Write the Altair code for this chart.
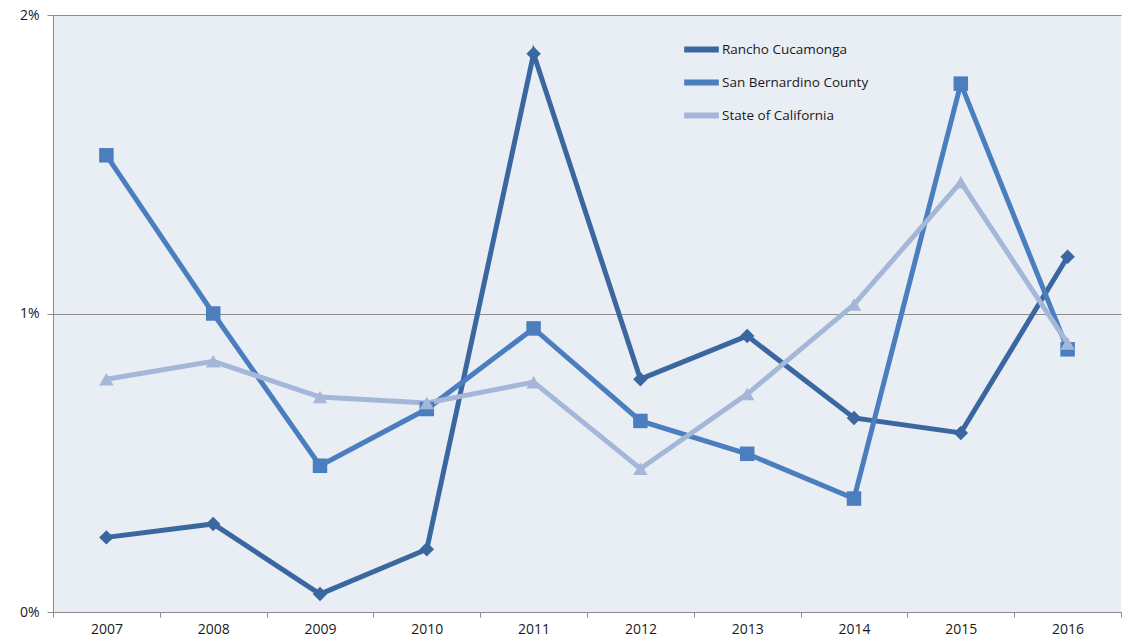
import altair as alt
import pandas as pd

years = ["2007", "2008", "2009", "2010", "2011", "2012", "2013", "2014", "2015", "2016"]
series_names = ["Rancho Cucamonga", "San Bernardino County", "State of California"]
rancho = [0.25, 0.295, 0.06, 0.21, 1.87, 0.78, 0.925, 0.65, 0.60, 1.19]
san_bern = [1.53, 1.00, 0.49, 0.68, 0.95, 0.64, 0.53, 0.38, 1.77, 0.88]
state = [0.78, 0.84, 0.72, 0.70, 0.77, 0.48, 0.73, 1.03, 1.44, 0.90]
y_ticks = [0, 1, 2]
colors = ["#3b67a1", "#4a7ebf", "#a5b7d8"]
shapes = ["diamond", "square", "triangle-up"]

rows = []
for name, vals in zip(series_names, [rancho, san_bern, state]):
    for i, (yr, v) in enumerate(zip(years, vals)):
        rows.append({"Year": yr, "Value": v, "Series": name, "Marker": name, "idx": i})
df = pd.DataFrame(rows)

font = "Open Sans"

x_enc = alt.X("Year:N", sort=years, title=None,
              scale=alt.Scale(paddingInner=0, paddingOuter=0),
              axis=alt.Axis(labelAngle=0, tickBand="extent", domainColor="#8c8c8c",
                            tickColor="#8c8c8c", tickSize=5, labelFontSize=14,
                            labelColor="#1a1a1a", labelFont=font, labelPadding=5,
                            grid=False))
y_enc = alt.Y("Value:Q", title=None,
              scale=alt.Scale(domain=[0, 2], nice=False),
              axis=alt.Axis(values=y_ticks, labelExpr="datum.value + '%'",
                            domainColor="#8c8c8c", tickColor="#8c8c8c", tickSize=6,
                            labelFontSize=14, labelColor="#1a1a1a", labelFont=font,
                            labelPadding=8, gridColor="#8c8c8c", gridWidth=1.2,
                            grid=True))
color_enc = alt.Color("Series:N", scale=alt.Scale(domain=series_names, range=colors),
                      legend=alt.Legend(title=None, orient="none", legendX=628, legendY=14,
                                        symbolType="stroke", symbolStrokeWidth=6,
                                        symbolSize=1200, labelFontSize=13.5, labelFont=font,
                                        labelColor="#1a1a1a", rowPadding=-1.6, labelOffset=0))

base = alt.Chart(df)
lines = base.mark_line(strokeWidth=5).encode(
    x=x_enc, y=y_enc, color=color_enc, detail="Series:N", order="idx:Q")
points = base.mark_point(filled=True, opacity=1, size=210).encode(
    x=x_enc, y=y_enc,
    color=alt.Color("Marker:N", scale=alt.Scale(domain=series_names, range=colors), legend=None),
    shape=alt.Shape("Marker:N", scale=alt.Scale(domain=series_names, range=shapes), legend=None))

chart = alt.layer(lines, points).resolve_scale(color="independent").properties(
    width=1068, height=597,
    autosize=alt.AutoSizeParams(type="none"),
    padding={"left": 53, "top": 15, "right": 12, "bottom": 31},
    background="white",
).configure_view(fill="#e9edf4", stroke=None)

chart.save("out.html", embed_options={"renderer": "svg", "actions": False})
